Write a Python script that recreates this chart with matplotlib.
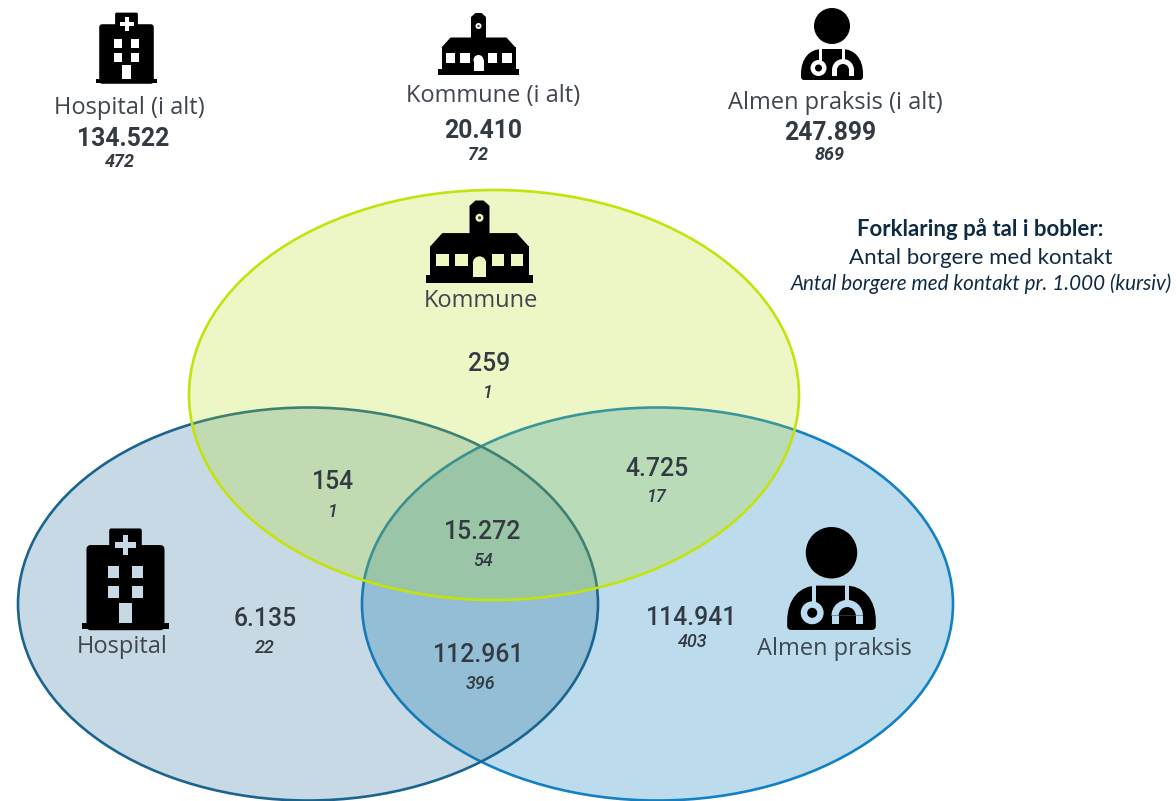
import matplotlib
matplotlib.use('Agg')
import matplotlib.pyplot as plt
from matplotlib.patches import Ellipse, Rectangle, FancyBboxPatch, Circle, Wedge, PathPatch, Polygon
from matplotlib.path import Path

# totals at the top
total_names = ['Hospital (i alt)', 'Kommune (i alt)', 'Almen praksis (i alt)']
total_counts = ['134.522', '20.410', '247.899']
total_per_1000 = ['472', '72', '869']

# venn regions
region_counts = ['259', '154', '4.725', '15.272', '6.135', '112.961', '114.941']
region_per_1000 = ['1', '1', '17', '54', '22', '396', '403']
region_pos = [(489, 364), (333, 482), (657, 469), (483, 532), (265, 619), (479, 655), (692, 618)]
region_sub_pos = [(488, 393), (333, 512), (657, 497), (483, 561), (265, 648), (480, 684), (693, 642)]

legend_lines = ['Forklaring på tal i bobler:', 'Antal borgere med kontakt',
                'Antal borgere med kontakt pr. 1.000 (kursiv)']

NUM_COL = '#333a42'
LABEL_COL = '#3f4650'
NAVY = '#0f2a42'

fig = plt.figure(figsize=(11.76, 8.01), dpi=100)
ax = fig.add_axes([0, 0, 1, 1])
ax.set_xlim(0, 1176)
ax.set_ylim(801, 0)
ax.axis('off')


def bubble(cx, cy, w, h, col, edge, alpha, z):
    ax.add_patch(Ellipse((cx, cy), w, h, facecolor=col, edgecolor='none', alpha=alpha, zorder=z))
    ax.add_patch(Ellipse((cx, cy), w, h, fill=False, edgecolor=edge, lw=1.9, zorder=z))


bubble(657.5, 604, 591, 393, '#1b84c4', '#1380c4', 0.29, 1)
bubble(308, 604, 580, 393, '#1f6a94', '#1a6490', 0.25, 2)
bubble(494, 395, 610, 410, '#b5de12', '#c4e30c', 0.24, 3)


def rect(cx, top, s, x0, x1, y0, y1, col, z=5):
    ax.add_patch(Rectangle((cx + x0 * s, top + y0 * s), (x1 - x0) * s, (y1 - y0) * s,
                           facecolor=col, edgecolor='none', zorder=z))


def hospital(cx, top, s, bg):
    rect(cx, top, s, -30.5, 30.5, 66, 70, 'black')
    ax.add_patch(FancyBboxPatch((cx - 24.5 * s, top + 14 * s), 49 * s, 54 * s,
                                boxstyle='round,pad=0,rounding_size=0', facecolor='black',
                                edgecolor='black', lw=4 * s, joinstyle='round', zorder=5))
    ax.add_patch(FancyBboxPatch((cx - 10 * s, top + 1 * s), 20 * s, 14 * s,
                                boxstyle='round,pad=0,rounding_size=0', facecolor='black',
                                edgecolor='black', lw=2 * s, joinstyle='round', zorder=5))
    rect(cx, top, s, -2, 2, 4, 18, bg, 6)
    rect(cx, top, s, -7, 7, 9, 13, bg, 6)
    for x0 in [-12.5, 4.5]:
        for y0 in [26, 40]:
            rect(cx, top, s, x0, x0 + 8, y0, y0 + 8.5, bg, 6)
    rect(cx, top, s, -4.5, 4.5, 52, 66, bg, 6)


def school(cx, top, s, bg):
    rect(cx, top, s, -40.5, 40.5, 56, 62, 'black')
    rect(cx, top, s, -37, 37, 34, 57, 'black')
    ax.add_patch(Polygon([(cx - 37 * s, top + 34.5 * s), (cx - 28 * s, top + 24.5 * s),
                          (cx + 28 * s, top + 24.5 * s), (cx + 37 * s, top + 34.5 * s)],
                         facecolor='black', edgecolor='none', zorder=5))
    ax.add_patch(Polygon([(cx - 7.5 * s, top + 26 * s), (cx - 7.5 * s, top + 4 * s), (cx - 3 * s, top),
                          (cx + 3 * s, top), (cx + 7.5 * s, top + 4 * s), (cx + 7.5 * s, top + 26 * s)],
                         facecolor='black', edgecolor='none', zorder=5))
    ax.add_patch(Circle((cx, top + 13 * s), 3 * s, facecolor=bg, edgecolor='none', zorder=6))
    ax.add_patch(Circle((cx, top + 13 * s), 1.2 * s, facecolor='#444444', edgecolor='none', zorder=7))
    for x0 in [-32.6, -18.3, 9.2, 23.6]:
        rect(cx, top, s, x0, x0 + 9.4, 40, 49.5, bg, 6)
    rect(cx, top, s, -5, 5, 47, 57.5, bg, 6)
    ax.add_patch(Circle((cx, top + 47 * s), 5 * s, facecolor=bg, edgecolor='none', zorder=6))


def doctor(cx, top, s, bg):
    ax.add_patch(Circle((cx, top + 18 * s), 18 * s, facecolor='black', edgecolor='none', zorder=5))
    pts = [(-31, 66), (-31, 50), (-22, 41), (-10, 41), (10, 41), (22, 41), (31, 50), (31, 66),
           (31, 69), (31, 72), (28, 72), (-28, 72), (-31, 72), (-31, 69), (-31, 66)]
    codes = [Path.MOVETO, Path.CURVE4, Path.CURVE4, Path.CURVE4, Path.LINETO, Path.CURVE4, Path.CURVE4,
             Path.CURVE4, Path.LINETO, Path.CURVE3, Path.CURVE3, Path.LINETO, Path.CURVE3, Path.CURVE3,
             Path.LINETO]
    ax.add_patch(PathPatch(Path([(cx + x * s, top + y * s) for x, y in pts], codes),
                           facecolor='black', edgecolor='none', zorder=5))
    # stethoscope
    rect(cx, top, s, -13.5, -10.5, 40, 54, bg, 6)
    ax.add_patch(Circle((cx - 13.5 * s, top + 60 * s), 8 * s, facecolor=bg, edgecolor='none', zorder=6))
    ax.add_patch(Circle((cx - 13.5 * s, top + 60 * s), 3.5 * s, facecolor='black', edgecolor='none', zorder=7))
    rect(cx, top, s, 9.5, 12.5, 40, 54, bg, 6)
    ax.add_patch(Wedge((cx + 11 * s, top + 62 * s), 11 * s, 180, 360, facecolor=bg, edgecolor='none', zorder=6))
    rect(cx, top, s, 0, 5, 62, 68, bg, 6)
    rect(cx, top, s, 17, 22, 62, 68, bg, 6)
    ax.add_patch(Wedge((cx + 11 * s, top + 62 * s), 6 * s, 180, 360, facecolor='black', edgecolor='none', zorder=7))
    rect(cx, top, s, 5, 8.5, 62, 68, 'black', 7)
    rect(cx, top, s, 13.5, 17, 62, 68, 'black', 7)


hospital(126.5, 13, 1, 'white')
school(478.5, 13, 1, 'white')
doctor(832, 8, 1, 'white')
hospital(125.5, 529, 1.43, '#c6d9e5')
school(479.5, 200.5, 1.33, '#eef8bf')
doctor(831.5, 527, 1.43, '#bbdcf0')

# totals text
total_x = [129, 493, 835]
total_name_y = [108, 96, 103]
total_count_y = [139, 131, 133]
total_sub_y = [162, 155, 155]
total_sub_x = [120, 478, 830]
total_count_x = [123, 483, 830]
for i in range(3):
    ax.text(total_x[i], total_name_y[i], total_names[i], family='Open Sans', fontsize=17,
            color=LABEL_COL, ha='center', va='center', zorder=8)
    ax.text(total_count_x[i], total_count_y[i], total_counts[i], family='Roboto', fontsize=17.8, weight='bold',
            color=NUM_COL, ha='center', va='center', zorder=8)
    ax.text(total_sub_x[i], total_sub_y[i], total_per_1000[i], family='Roboto', fontsize=13, style='italic',
            weight='bold', color=NUM_COL, ha='center', va='center', zorder=8)

# bubble names
ax.text(480.5, 301, 'Kommune', family='Open Sans', fontsize=17, color=LABEL_COL, ha='center', va='center', zorder=8)
ax.text(122, 647, 'Hospital', family='Open Sans', fontsize=17, color=LABEL_COL, ha='center', va='center', zorder=8)
ax.text(834, 649, 'Almen praksis', family='Open Sans', fontsize=17, color=LABEL_COL, ha='center', va='center', zorder=8)

# numbers in bubbles
for i in range(len(region_counts)):
    ax.text(region_pos[i][0], region_pos[i][1], region_counts[i], family='Roboto', fontsize=17.8, weight='medium',
            color=NUM_COL, ha='center', va='center', zorder=8)
    ax.text(region_sub_pos[i][0], region_sub_pos[i][1], region_per_1000[i], family='Roboto', fontsize=13,
            style='italic', weight='medium', color=NUM_COL, ha='center', va='center', zorder=8)

# legend
ax.text(980, 229, legend_lines[0], family='Lato', fontsize=16, weight='bold', color=NAVY, ha='center', va='center')
ax.text(981, 258, legend_lines[1], family='Lato', fontsize=16, color=NAVY, ha='center', va='center')
ax.text(981, 284, legend_lines[2], family='Lato', fontsize=14.9, style='italic', color=NAVY, ha='center', va='center')

fig.savefig('out.png', dpi=100)
